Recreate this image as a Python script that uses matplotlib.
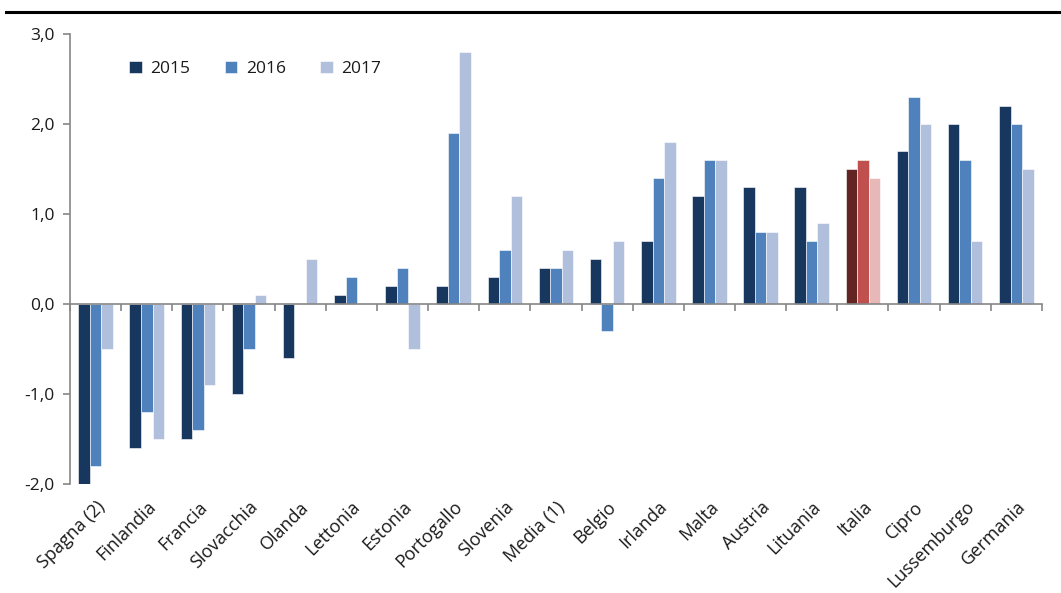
import numpy as np
import matplotlib.pyplot as plt
from matplotlib.transforms import offset_copy

paesi = ["Spagna (2)", "Finlandia", "Francia", "Slovacchia", "Olanda", "Lettonia",
         "Estonia", "Portogallo", "Slovenia", "Media (1)", "Belgio", "Irlanda",
         "Malta", "Austria", "Lituania", "Italia", "Cipro", "Lussemburgo", "Germania"]
anni = ["2015", "2016", "2017"]
v2015 = [-2.0, -1.6, -1.5, -1.0, -0.6, 0.1, 0.2, 0.2, 0.3, 0.4, 0.5, 0.7, 1.2, 1.3, 1.3, 1.5, 1.7, 2.0, 2.2]
v2016 = [-1.8, -1.2, -1.4, -0.5, 0.0, 0.3, 0.4, 1.9, 0.6, 0.4, -0.3, 1.4, 1.6, 0.8, 0.7, 1.6, 2.3, 1.6, 2.0]
v2017 = [-0.5, -1.5, -0.9, 0.1, 0.5, 0.0, -0.5, 2.8, 1.2, 0.6, 0.7, 1.8, 1.6, 0.8, 0.9, 1.4, 2.0, 0.7, 1.5]

colori = ["#17375E", "#4F81BD", "#B0BFDC"]
colori_italia = ["#632523", "#C0504D", "#E6B9B8"]

plt.rcParams['font.family'] = ['Open Sans', 'DejaVu Sans']

fig = plt.figure(figsize=(10.61, 5.93), dpi=100)
ax = fig.add_axes([0.066, 0.1838, 0.916, 0.7589])

x = np.arange(len(paesi))
w = 0.225
for k, serie in enumerate([v2015, v2016, v2017]):
    col = [colori_italia[k] if p == "Italia" else colori[k] for p in paesi]
    ax.bar(x + (k - 1) * w, serie, w, color=col, edgecolor="white", linewidth=0.4,
           label=anni[k])

ax.set_xlim(-0.5, len(paesi) - 0.5)
ax.set_ylim(-2.0, 3.0)
ax.set_yticks([-2, -1, 0, 1, 2, 3])
ax.set_yticklabels(["-2,0", "-1,0", "0,0", "1,0", "2,0", "3,0"], fontsize=12.5,
                   color="#1a1a1a")

# asse x sullo zero, tacche tra le categorie
ax.spines['bottom'].set_position(('data', 0))
ax.spines['top'].set_visible(False)
ax.spines['right'].set_visible(False)
for s in ['left', 'bottom']:
    ax.spines[s].set_color("#868686")
    ax.spines[s].set_linewidth(1.2)
ax.set_xticks(np.arange(len(paesi) + 1) - 0.5)
ax.set_xticklabels([])
ax.tick_params(axis='x', length=5, width=1.2, color="#868686", direction='out')
ax.tick_params(axis='y', length=5, width=1.2, color="#868686", direction='out', pad=6)

trans = offset_copy(ax.get_xaxis_transform(), fig=fig, x=0, y=-10, units='points')
for i, p in enumerate(paesi):
    ax.text(i, 0, p, transform=trans, rotation=45, ha='right', va='top',
            rotation_mode='anchor', fontsize=13, color="#1a1a1a")

leg = ax.legend(loc='upper left', bbox_to_anchor=(0.045, 0.975), ncol=3, frameon=False,
                fontsize=12.5, handlelength=0.7, handleheight=0.7, columnspacing=2.0,
                handletextpad=0.5)
for t in leg.get_texts():
    t.set_color("#1a1a1a")

# linea di testata
fig.add_artist(plt.Line2D([0.006, 1.0], [0.98, 0.98], color="black", linewidth=2.2,
                          transform=fig.transFigure))

fig.savefig("out.png", dpi=100)
